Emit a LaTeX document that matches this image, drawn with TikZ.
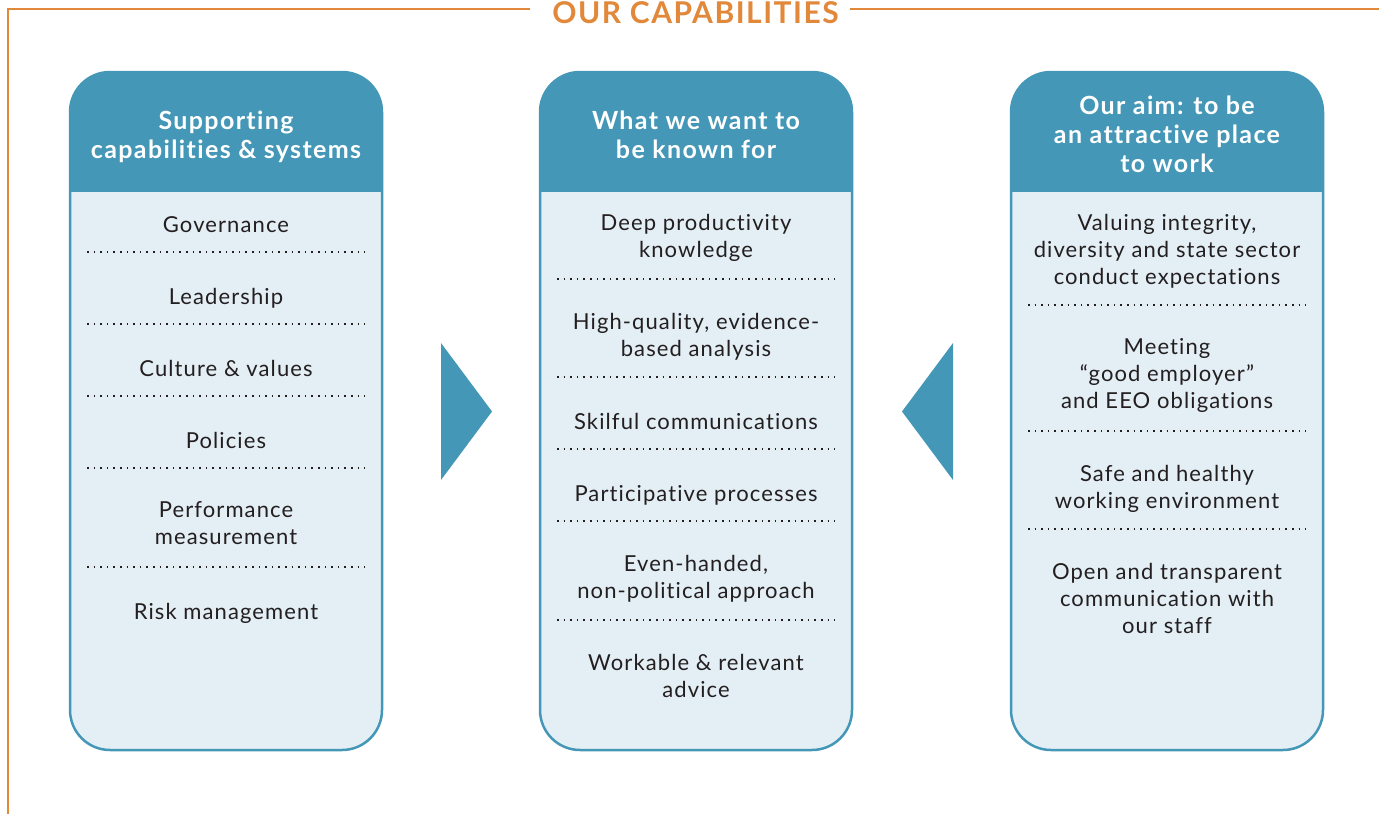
\documentclass[tikz,border=0pt]{standalone}
\usepackage{fontspec}
\setmainfont{Lato}[Ligatures=NoCommon]
\newfontfamily\bodyfont{Lato}[Ligatures=NoCommon, LetterSpace=5]
\newfontfamily\headfont{Lato}[Ligatures=NoCommon, LetterSpace=5.5]
\newfontfamily\titlefont{Lato}[Ligatures=NoCommon, LetterSpace=5]
\begin{document}
\definecolor{frameorange}{HTML}{E2883A}
\definecolor{hdrblue}{HTML}{4497B6}
\definecolor{bodyblue}{HTML}{E3EEF5}
\definecolor{inkdark}{HTML}{231F20}
\begin{tikzpicture}[x=1pt,y=-1pt,
  panelbox/.style={draw=hdrblue, line width=2.5pt, rounded corners=40pt},
  hdrtext/.style={text=white, font=\headfont\bfseries\fontsize{25}{29}\selectfont, align=center,
    inner sep=0pt, anchor=north, execute at begin node=\strut, execute at end node=\strut},
  itemtext/.style={text=inkdark, font=\bodyfont\fontsize{22}{27}\selectfont, align=center,
    inner sep=0pt, anchor=north, execute at begin node=\strut, execute at end node=\strut},
  sepline/.style={inkdark, line width=1.6pt, dash pattern=on 1.6pt off 5pt},
  pointer/.style={fill=hdrblue, draw=none}]
\useasboundingbox (0,0) rectangle (1379,814);

% outer frame with the title set into its top edge
\node[text=frameorange, font=\titlefont\bfseries\fontsize{30}{34}\selectfont, anchor=base, inner sep=0pt]
  (title) at (695.5,23) {OUR CAPABILITIES};
\coordinate (frameL) at (8,9);
\coordinate (frameB) at (8,814);
\coordinate (frameR) at (1379,9);
\coordinate (titleL) at (530,9);
\coordinate (titleR) at (850,9);
\draw[frameorange, line width=2.5pt] (frameB) -- (frameL) -- (titleL);
\draw[frameorange, line width=2.5pt] (titleR) -- (frameR);

% one panel: #1 left edge, #2 right edge
\newcommand{\capspanel}[2]{%
  \fill[bodyblue, rounded corners=40pt] (#1,72) rectangle (#2,750);
  \begin{scope}
    \clip[rounded corners=40pt] (#1,72) rectangle (#2,750);
    \fill[hdrblue] (#1,72) rectangle (#2,192);
  \end{scope}
  \draw[panelbox] (#1,72) rectangle (#2,750);
}
\capspanel{70}{382}
\capspanel{540}{852}
\capspanel{1011}{1323}

% left panel
\node[hdrtext] (hL) at (226,111.2) {Supporting\\capabilities \& systems};
\node[itemtext] (l1) at (226,213.6) {Governance};
\node[itemtext] (l2) at (226,285.6) {Leadership};
\node[itemtext] (l3) at (226,357.6) {Culture \& values};
\node[itemtext] (l4) at (226,429.6) {Policies};
\node[itemtext] (l5) at (226,501.6) {Performance\\measurement};
\node[itemtext] (l6) at (226,600.6) {Risk management};
\foreach \yy in {252,324,396,468,567}
  \draw[sepline] (87,\yy) -- (365,\yy);

% middle panel
\node[hdrtext] (hM) at (696,111.2) {What we want to\\be known for};
\node[itemtext] (m1) at (696,213.6) {Deep productivity\\knowledge};
\node[itemtext] (m2) at (696,312.6) {High-quality, evidence-\\based analysis};
\node[itemtext] (m3) at (696,410.6) {Skilful communications};
\node[itemtext] (m4) at (696,482.6) {Participative processes};
\node[itemtext] (m5) at (696,554.6) {Even-handed,\\non-political approach};
\node[itemtext] (m6) at (696,653.6) {Workable \& relevant\\advice};
\foreach \yy in {279,377,449,521,620}
  \draw[sepline] (557,\yy) -- (835,\yy);

% right panel
\node[hdrtext] (hR) at (1167,96.2) {Our aim: to be\\an attractive place\\to work};
\node[itemtext] (r1) at (1167,213.6) {Valuing integrity,\\diversity and state sector\\conduct expectations};
\node[itemtext] (r2) at (1167,338.6) {Meeting\\“good employer”\\and EEO obligations};
\node[itemtext] (r3) at (1167,464.6) {Safe and healthy\\working environment};
\node[itemtext] (r4) at (1167,562.6) {Open and transparent\\communication with\\our staff};
\foreach \yy in {305,431,529}
  \draw[sepline] (1028,\yy) -- (1306,\yy);

% pointers towards the middle panel
\fill[pointer] (441,343) -- (492,411.5) -- (441,480) -- cycle;
\fill[pointer] (953,343) -- (902,411.5) -- (953,480) -- cycle;
\end{tikzpicture}
\end{document}
